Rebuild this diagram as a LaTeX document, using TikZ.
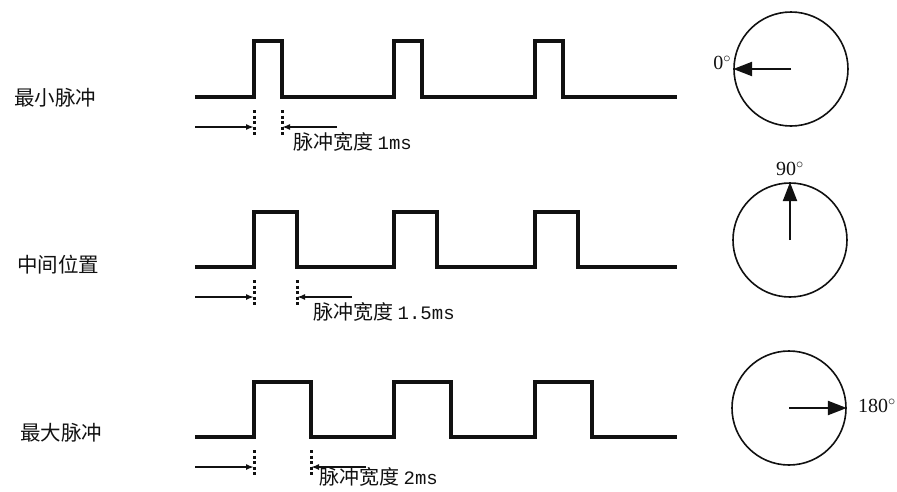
\documentclass[tikz,border=0pt]{standalone}
\usepackage{fontspec}
\setmainfont{Liberation Serif}
\setmonofont{Liberation Mono}
\newfontfamily\cjk{Noto Sans CJK SC}
\usetikzlibrary{positioning,calc,arrows.meta}
\definecolor{ink}{HTML}{111111}
\tikzset{
  wave/.style={draw=ink,line width=3.2pt,line join=miter},
  tickline/.style={draw=ink,line width=3pt,dash pattern=on 3pt off 2.5pt},
  span/.style={-{Latex[length=8pt,width=6pt]},draw=ink,line width=2pt},
  dial/.style={circle,draw=ink,line width=1.6pt,minimum size=114pt,inner sep=0pt},
  pointer/.style={-{Triangle[length=19pt,width=14pt]},draw=ink,line width=2.4pt},
  rowname/.style={font=\cjk\fontsize{20.5}{24}\selectfont,text=ink,anchor=west,inner sep=0pt},
  widthtag/.style={font=\cjk\fontsize{20}{24}\selectfont,text=ink,anchor=west,inner sep=0pt},
  deg/.style={font=\fontsize{20}{24}\selectfont,text=ink,inner sep=0pt}
}

\begin{document}
\begin{tikzpicture}[x=1pt,y=-1pt]
  \useasboundingbox (0,0) rectangle (897,491);
  % row names
  \node[rowname] (minpulse) at (14,98) {最小脉冲};
  \node[rowname] (midpos)   at (17,265) {中间位置};
  \node[rowname] (maxpulse) at (20,433) {最大脉冲};
  % pulse trains and width markers
  \foreach \r/\yb/\yh/\w/\ym/\lx/\ly/\txt in {%
      1/97/41/28/127/11/15/1ms,
      2/267/212/43/297/16/15/1.5ms,
      3/437/382/57/467/8/10/2ms}{
    \draw[wave] (195,\yb) \foreach \x in {254,394,535}{%
        -- (\x,\yb) -- (\x,\yh) -- ({\x+\w},\yh) -- ({\x+\w},\yb)} -- (677,\yb);
    \coordinate (rise\r) at (254,\ym);
    \coordinate (fall\r) at ({254+\w},\ym);
    \coordinate (from\r) at (195,\ym);
    \coordinate (to\r)   at ({254+\w+55},\ym);
    \draw[tickline] ($(rise\r)+(0,-17)$) -- ($(rise\r)+(0,9)$);
    \draw[tickline] ($(fall\r)+(0,-17)$) -- ($(fall\r)+(0,9)$);
    \draw[span] (from\r) -- (rise\r);
    \draw[span] (to\r) -- (fall\r);
    \node[widthtag] (tag\r) at ($(fall\r)+(\lx,\ly)$)
      {脉冲宽度 {\ttfamily\fontsize{19}{22}\selectfont\txt}};
  }
  % servo dials
  \node[dial] (dialA) at (791,69) {};
  \node[dial] (dialB) at (790,240) {};
  \node[dial] (dialC) at (789,408) {};
  \draw[pointer] (dialA.center) -- (dialA.west);
  \draw[pointer] (dialB.center) -- (dialB.north);
  \draw[pointer] (dialC.center) -- (dialC.east);
  \node[deg,anchor=east]  (degA) at ($(dialA.west)+(-2,-6)$) {0\textsuperscript{$\circ$}};
  \node[deg,anchor=south] (degB) at ($(dialB.north)+(0,-6)$) {90\textsuperscript{$\circ$}};
  \node[deg,anchor=west]  (degC) at ($(dialC.east)+(11,-2)$) {180\textsuperscript{$\circ$}};
\end{tikzpicture}
\end{document}
